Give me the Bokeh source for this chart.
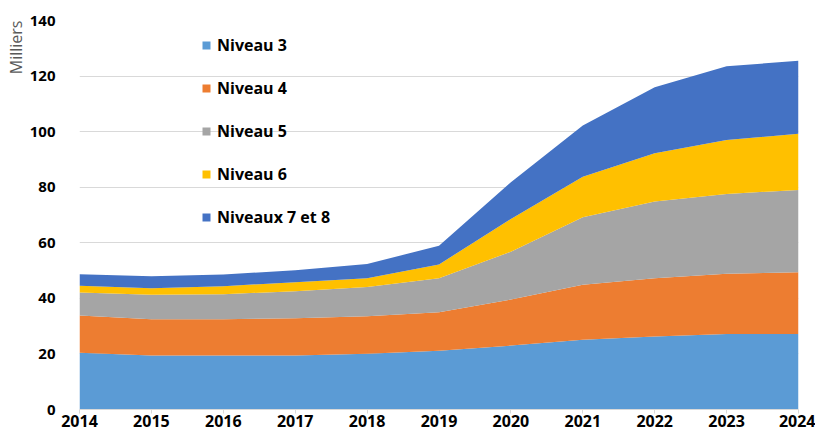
from bokeh.plotting import figure
from bokeh.models import ColumnDataSource, Range1d, FixedTicker, Title
from bokeh.embed import file_html
from bokeh.resources import INLINE

years = [2014, 2015, 2016, 2017, 2018, 2019, 2020, 2021, 2022, 2023, 2024]
niveau_3 = [20.4, 19.4, 19.4, 19.4, 20.1, 21.1, 23.0, 25.1, 26.3, 27.2, 27.2]
niveau_4 = [13.4, 13.1, 13.1, 13.4, 13.5, 13.9, 16.6, 19.8, 20.9, 21.7, 22.2]
niveau_5 = [8.3, 8.8, 9.0, 9.8, 10.5, 12.2, 17.2, 24.3, 27.7, 28.7, 29.6]
niveau_6 = [2.4, 2.3, 2.9, 3.2, 3.1, 5.0, 11.8, 14.6, 17.3, 19.4, 20.2]
niveaux_7_8 = [4.2, 4.4, 4.2, 4.3, 5.2, 6.7, 13.2, 18.4, 23.8, 26.5, 26.3]

series_names = ["n3", "n4", "n5", "n6", "n78"]
series_labels = ["Niveau 3", "Niveau 4", "Niveau 5", "Niveau 6", "Niveaux 7 et 8"]
series_colors = ["#5B9BD5", "#ED7D31", "#A5A5A5", "#FFC000", "#4472C4"]
y_ticks = [0, 20, 40, 60, 80, 100, 120, 140]

source = ColumnDataSource(dict(year=years, n3=niveau_3, n4=niveau_4, n5=niveau_5,
                               n6=niveau_6, n78=niveaux_7_8))

p = figure(width=815, height=436, output_backend="svg", toolbar_location=None,
           x_range=Range1d(2014, 2024), y_range=Range1d(0, 140),
           min_border_left=79, min_border_right=17, min_border_top=20, min_border_bottom=27)
p.outline_line_color = None
p.background_fill_color = "white"

p.varea_stack(stackers=series_names, x="year", color=series_colors,
              legend_label=series_labels, source=source)

# axes
p.xaxis.ticker = FixedTicker(ticks=years)
p.yaxis.ticker = FixedTicker(ticks=y_ticks)
for ax in (p.xaxis, p.yaxis):
    ax.major_label_text_font = "Open Sans"
    ax.major_label_text_font_style = "bold"
    ax.major_label_text_color = "#000000"
    ax.minor_tick_line_color = None
p.yaxis.major_label_text_font_size = "15px"
p.xaxis.major_label_text_font_size = "16px"
p.xaxis.axis_line_color = "#D9D9D9"
p.xaxis.major_tick_line_color = "#D9D9D9"
p.xaxis.major_tick_in = 0
p.xaxis.major_tick_out = 4
p.xaxis.major_label_standoff = 1
p.yaxis.axis_line_color = None
p.yaxis.major_tick_line_color = None
p.yaxis.major_label_standoff = 18

p.xgrid.grid_line_color = None
p.ygrid.grid_line_color = "#D9D9D9"
p.ygrid.grid_line_width = 1

p.add_layout(Title(text="Milliers", align="right", text_color="#595959",
                   text_font="Open Sans", text_font_size="16px",
                   text_font_style="normal", standoff=0, offset=0), "left")

lg = p.legend[0]
lg.location = (122, 181)
lg.background_fill_alpha = 0
lg.border_line_color = None
lg.padding = 0
lg.margin = 0
lg.glyph_width = 10
lg.glyph_height = 10
lg.label_height = 10
lg.spacing = 21
lg.label_standoff = 6
lg.label_text_font = "Open Sans"
lg.label_text_font_style = "bold"
lg.label_text_font_size = "16px"
lg.label_text_color = "#000000"

open("out.html", "w").write(file_html(p, INLINE))
